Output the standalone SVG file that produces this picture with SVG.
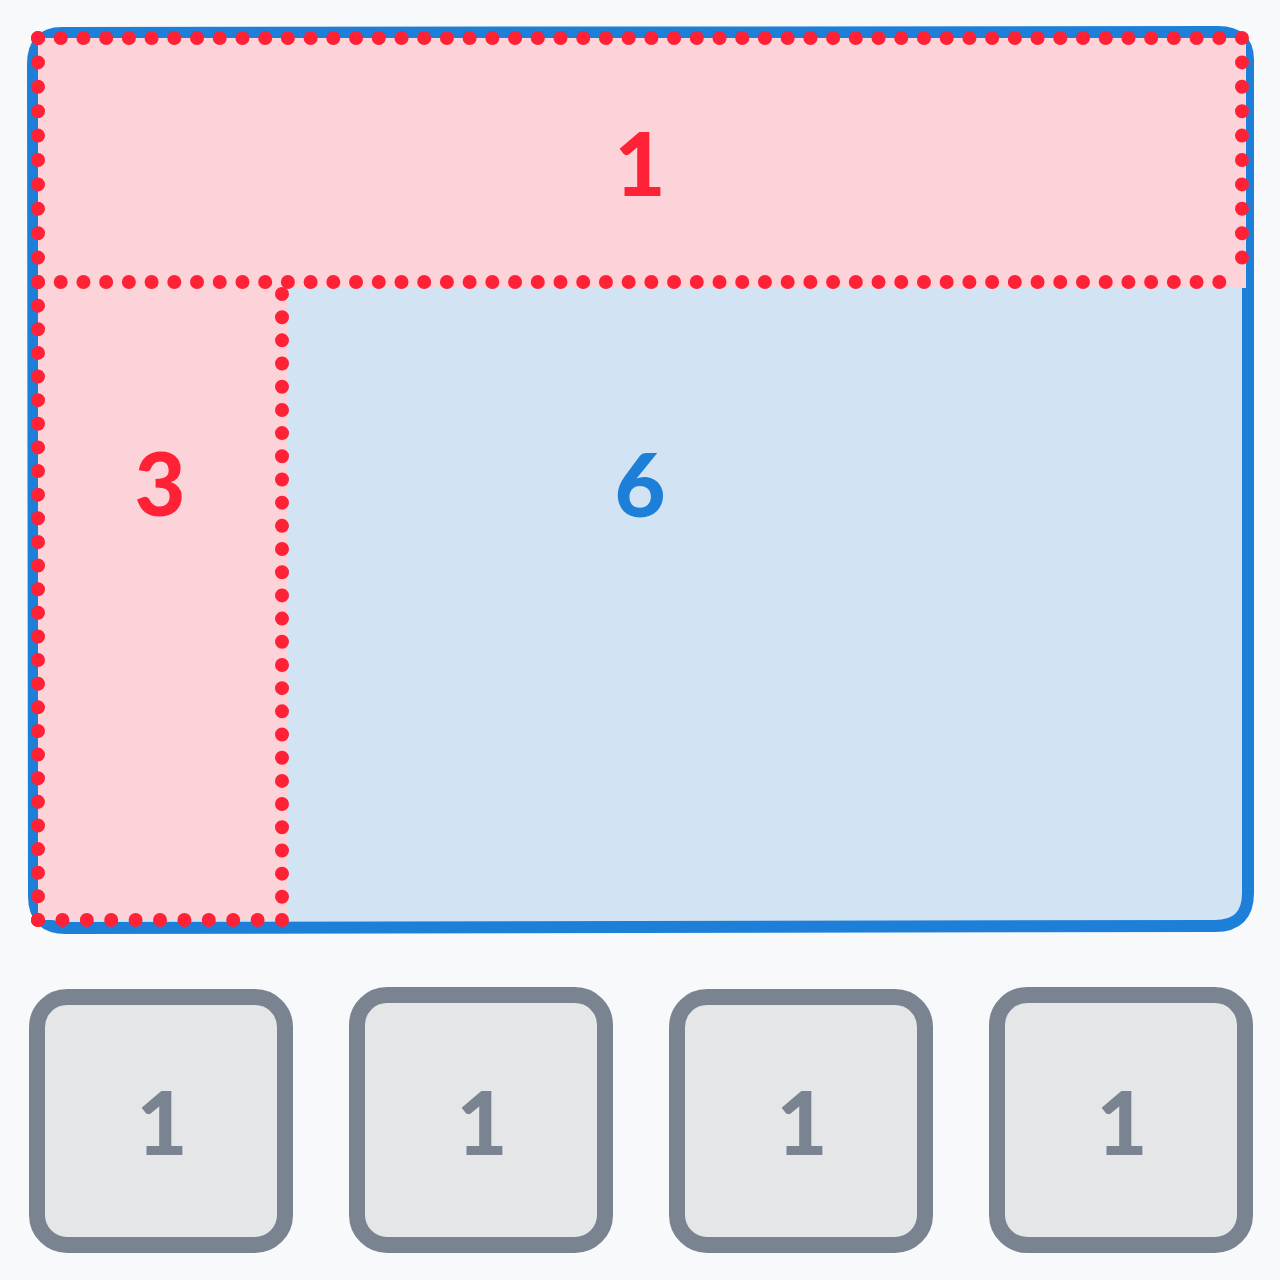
<svg xmlns="http://www.w3.org/2000/svg" width="1280" height="1280" viewBox="0 0 1280 1280">
<style>
.num{font-family:"Lato","Liberation Sans",sans-serif;font-weight:900;font-size:88px;text-anchor:middle}
.dots{fill:none;stroke:#ff2136;stroke-width:14;stroke-linecap:round;stroke-dasharray:0 1}
.box{fill:#e4e6e8;stroke:#7a8491;stroke-width:16}
</style>
<rect width="1280" height="1280" fill="#f8f9fb"/>
<g id="outer">
<path d="M62 33 L1218 32 Q1248 32 1248 60 L1248 893 Q1248 926 1215 926 L66 928 Q34 928 34 896 L33 64 Q33 33 62 33 Z" fill="#d2e3f3" stroke="#1e7fd8" stroke-width="12"/>
<text class="num" x="640" y="517" fill="#1e7fd8">6</text>
</g>
<g id="region-top">
<rect x="38" y="38" width="1208" height="250" fill="#fbd3d8"/>
<text class="num" x="640" y="196" fill="#ff2136">1</text>
</g>
<g id="region-left">
<rect x="38" y="282" width="250" height="638" fill="#fbd3d8"/>
<text class="num" x="160" y="516" fill="#ff2136">3</text>
</g>
<g id="dotted-lines">
<path class="dots" pathLength="53" d="M38 38 H1242"/>
<path class="dots" pathLength="10" d="M1242 38 V282"/>
<path class="dots" pathLength="53" d="M38 282 H1242"/>
<path class="dots" pathLength="10" d="M38 38 V282"/>
<path class="dots" pathLength="27" d="M38 282 V920"/>
<path class="dots" pathLength="27" d="M282 294 V920"/>
<path class="dots" pathLength="10" d="M38 920 H282"/>
</g>
<g id="box1"><rect class="box" x="37" y="997" width="248" height="248" rx="30"/><text class="num" x="162" y="1155" fill="#7a8491">1</text></g>
<g id="box2"><rect class="box" x="357" y="995" width="248" height="250" rx="30"/><text class="num" x="482" y="1155" fill="#7a8491">1</text></g>
<g id="box3"><rect class="box" x="677" y="997" width="248" height="248" rx="30"/><text class="num" x="802" y="1155" fill="#7a8491">1</text></g>
<g id="box4"><rect class="box" x="997" y="995" width="248" height="250" rx="30"/><text class="num" x="1122" y="1155" fill="#7a8491">1</text></g>
</svg>
